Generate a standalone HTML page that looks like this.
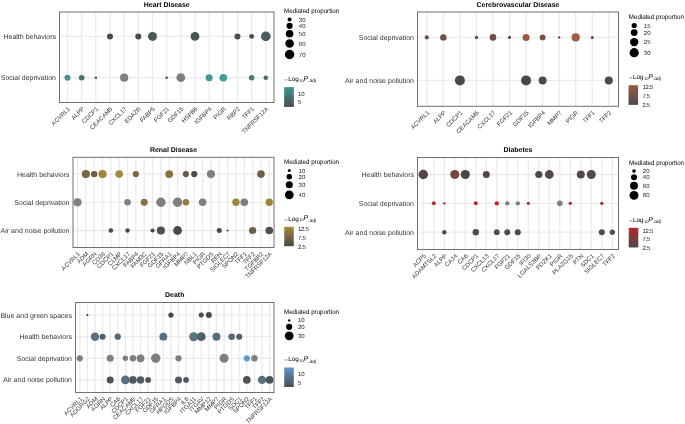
<!DOCTYPE html><html><head><meta charset="utf-8"><title>Mediation dot plots</title><style>html,body{margin:0;padding:0;background:#fff;width:685px;height:424px;overflow:hidden}svg{display:block;will-change:transform}text{font-family:"Liberation Sans",sans-serif;text-rendering:geometricPrecision}</style></head><body><svg width="685" height="424" viewBox="0 0 685 424" font-family='"Liberation Sans", sans-serif'><defs><linearGradient id="g0" x1="0" y1="0" x2="0" y2="1"><stop offset="0" stop-color="#3f9793"/><stop offset="1" stop-color="#4a4a4a"/></linearGradient><linearGradient id="g1" x1="0" y1="0" x2="0" y2="1"><stop offset="0" stop-color="#9a5a3e"/><stop offset="1" stop-color="#4a4a4a"/></linearGradient><linearGradient id="g2" x1="0" y1="0" x2="0" y2="1"><stop offset="0" stop-color="#a6873a"/><stop offset="1" stop-color="#4b4946"/></linearGradient><linearGradient id="g3" x1="0" y1="0" x2="0" y2="1"><stop offset="0" stop-color="#b02828"/><stop offset="1" stop-color="#4a4a4a"/></linearGradient><linearGradient id="g4" x1="0" y1="0" x2="0" y2="1"><stop offset="0" stop-color="#5a9ad0"/><stop offset="1" stop-color="#4a4a4a"/></linearGradient></defs><rect width="685" height="424" fill="#fff"/><g><line x1="67.5" y1="12" x2="67.5" y2="102.5" stroke="#ebebeb" stroke-width="1.3"/><line x1="81.66" y1="12" x2="81.66" y2="102.5" stroke="#ebebeb" stroke-width="1.3"/><line x1="95.83" y1="12" x2="95.83" y2="102.5" stroke="#ebebeb" stroke-width="1.3"/><line x1="109.99" y1="12" x2="109.99" y2="102.5" stroke="#ebebeb" stroke-width="1.3"/><line x1="124.16" y1="12" x2="124.16" y2="102.5" stroke="#ebebeb" stroke-width="1.3"/><line x1="138.32" y1="12" x2="138.32" y2="102.5" stroke="#ebebeb" stroke-width="1.3"/><line x1="152.49" y1="12" x2="152.49" y2="102.5" stroke="#ebebeb" stroke-width="1.3"/><line x1="166.65" y1="12" x2="166.65" y2="102.5" stroke="#ebebeb" stroke-width="1.3"/><line x1="180.81" y1="12" x2="180.81" y2="102.5" stroke="#ebebeb" stroke-width="1.3"/><line x1="194.98" y1="12" x2="194.98" y2="102.5" stroke="#ebebeb" stroke-width="1.3"/><line x1="209.14" y1="12" x2="209.14" y2="102.5" stroke="#ebebeb" stroke-width="1.3"/><line x1="223.31" y1="12" x2="223.31" y2="102.5" stroke="#ebebeb" stroke-width="1.3"/><line x1="237.47" y1="12" x2="237.47" y2="102.5" stroke="#ebebeb" stroke-width="1.3"/><line x1="251.64" y1="12" x2="251.64" y2="102.5" stroke="#ebebeb" stroke-width="1.3"/><line x1="265.8" y1="12" x2="265.8" y2="102.5" stroke="#ebebeb" stroke-width="1.3"/><line x1="59.5" y1="36.4" x2="274" y2="36.4" stroke="#ebebeb" stroke-width="1.3"/><line x1="59.5" y1="77.7" x2="274" y2="77.7" stroke="#ebebeb" stroke-width="1.3"/><circle cx="109.99" cy="36.4" r="3" fill="#4a4a4a"/><circle cx="138.32" cy="36.4" r="3" fill="#494949"/><circle cx="152.49" cy="36.4" r="4.5" fill="#4b5658"/><circle cx="194.98" cy="36.4" r="4.4" fill="#4a5254"/><circle cx="237.47" cy="36.4" r="3" fill="#4d4d4d"/><circle cx="251.64" cy="36.4" r="2.4" fill="#484848"/><circle cx="265.8" cy="36.4" r="4.8" fill="#4a5e60"/><circle cx="67.5" cy="77.7" r="3" fill="#468f8b"/><circle cx="81.66" cy="77.7" r="2.8" fill="#48706d"/><circle cx="95.83" cy="77.7" r="1.3" fill="#3f5c5c"/><circle cx="124.16" cy="77.7" r="4.1" fill="#7f7f7f"/><circle cx="166.65" cy="77.7" r="1.3" fill="#3f5c5c"/><circle cx="180.81" cy="77.7" r="4.4" fill="#7f7f7f"/><circle cx="209.14" cy="77.7" r="3.5" fill="#409895"/><circle cx="223.31" cy="77.7" r="3.8" fill="#419d99"/><circle cx="251.64" cy="77.7" r="2.7" fill="#467775"/><circle cx="265.8" cy="77.7" r="2.3" fill="#486d6c"/><rect x="59.5" y="12" width="214.5" height="90.5" fill="none" stroke="#707070" stroke-width="1.0"/><text x="166.75" y="6.6" text-anchor="middle" font-weight="bold" font-size="6.95" fill="#000">Heart Disease</text><text x="56" y="38.85" text-anchor="end" font-size="7.0" fill="#333333">Health behaviors</text><text x="56" y="80.15" text-anchor="end" font-size="7.0" fill="#333333">Social deprivation</text><text transform="translate(70.5,109.3) rotate(-45)" text-anchor="end" font-size="6.05" fill="#333333">ACVRL1</text><text transform="translate(84.66,109.3) rotate(-45)" text-anchor="end" font-size="6.05" fill="#333333">ALPP</text><text transform="translate(98.83,109.3) rotate(-45)" text-anchor="end" font-size="6.05" fill="#333333">CDCP1</text><text transform="translate(112.99,109.3) rotate(-45)" text-anchor="end" font-size="6.05" fill="#333333">CEACAM5</text><text transform="translate(127.16,109.3) rotate(-45)" text-anchor="end" font-size="6.05" fill="#333333">CXCL17</text><text transform="translate(141.32,109.3) rotate(-45)" text-anchor="end" font-size="6.05" fill="#333333">EDA2R</text><text transform="translate(155.49,109.3) rotate(-45)" text-anchor="end" font-size="6.05" fill="#333333">FABP5</text><text transform="translate(169.65,109.3) rotate(-45)" text-anchor="end" font-size="6.05" fill="#333333">FGF21</text><text transform="translate(183.81,109.3) rotate(-45)" text-anchor="end" font-size="6.05" fill="#333333">GDF15</text><text transform="translate(197.98,109.3) rotate(-45)" text-anchor="end" font-size="6.05" fill="#333333">HSPB6</text><text transform="translate(212.14,109.3) rotate(-45)" text-anchor="end" font-size="6.05" fill="#333333">IGFBP4</text><text transform="translate(226.31,109.3) rotate(-45)" text-anchor="end" font-size="6.05" fill="#333333">PIGR</text><text transform="translate(240.47,109.3) rotate(-45)" text-anchor="end" font-size="6.05" fill="#333333">RBP2</text><text transform="translate(254.64,109.3) rotate(-45)" text-anchor="end" font-size="6.05" fill="#333333">TFF1</text><text transform="translate(268.8,109.3) rotate(-45)" text-anchor="end" font-size="6.05" fill="#333333">TNFRSF12A</text><text transform="translate(284.1,12.6) scale(1,1.07)" font-size="6.2" fill="#000">Mediated proportion</text><circle cx="289.6" cy="19.5" r="2" fill="#000"/><text x="298.8" y="21.55" font-size="6.0" fill="#1a1a1a">30</text><circle cx="289.6" cy="25.8" r="3.1" fill="#000"/><text x="298.8" y="27.85" font-size="6.0" fill="#1a1a1a">40</text><circle cx="289.6" cy="33.7" r="3.8" fill="#000"/><text x="298.8" y="35.75" font-size="6.0" fill="#1a1a1a">50</text><circle cx="289.6" cy="43.5" r="4.3" fill="#000"/><text x="298.8" y="45.55" font-size="6.0" fill="#1a1a1a">60</text><circle cx="289.6" cy="54.5" r="4.7" fill="#000"/><text x="298.8" y="56.55" font-size="6.0" fill="#1a1a1a">70</text><text x="284.2" y="81.7" font-size="6.1" fill="#000">&#8722;</text><text x="288.2" y="80.9" font-size="6.3" fill="#000">Log</text><text x="299.4" y="81.5" font-size="3.9" fill="#000">10</text><text x="303.4" y="80.6" font-size="6.9" font-style="italic" fill="#000">P</text><text x="308.2" y="82.2" font-size="4.9" font-style="italic" fill="#000">.adj</text><rect x="284.1" y="87.1" width="9.8" height="19.8" fill="url(#g0)"/><line x1="284.1" y1="93.6" x2="285.7" y2="93.6" stroke="#fff" stroke-opacity="0.5" stroke-width="0.45"/><line x1="292.3" y1="93.6" x2="293.9" y2="93.6" stroke="#fff" stroke-opacity="0.5" stroke-width="0.45"/><text x="298" y="95.65" font-size="6.0" fill="#1a1a1a">10</text><line x1="284.1" y1="102.4" x2="285.7" y2="102.4" stroke="#fff" stroke-opacity="0.5" stroke-width="0.45"/><line x1="292.3" y1="102.4" x2="293.9" y2="102.4" stroke="#fff" stroke-opacity="0.5" stroke-width="0.45"/><text x="298" y="104.45" font-size="6.0" fill="#1a1a1a">5</text></g>
<g><line x1="426.8" y1="12" x2="426.8" y2="106.3" stroke="#ebebeb" stroke-width="1.3"/><line x1="443.35" y1="12" x2="443.35" y2="106.3" stroke="#ebebeb" stroke-width="1.3"/><line x1="459.89" y1="12" x2="459.89" y2="106.3" stroke="#ebebeb" stroke-width="1.3"/><line x1="476.44" y1="12" x2="476.44" y2="106.3" stroke="#ebebeb" stroke-width="1.3"/><line x1="492.98" y1="12" x2="492.98" y2="106.3" stroke="#ebebeb" stroke-width="1.3"/><line x1="509.53" y1="12" x2="509.53" y2="106.3" stroke="#ebebeb" stroke-width="1.3"/><line x1="526.07" y1="12" x2="526.07" y2="106.3" stroke="#ebebeb" stroke-width="1.3"/><line x1="542.62" y1="12" x2="542.62" y2="106.3" stroke="#ebebeb" stroke-width="1.3"/><line x1="559.16" y1="12" x2="559.16" y2="106.3" stroke="#ebebeb" stroke-width="1.3"/><line x1="575.71" y1="12" x2="575.71" y2="106.3" stroke="#ebebeb" stroke-width="1.3"/><line x1="592.25" y1="12" x2="592.25" y2="106.3" stroke="#ebebeb" stroke-width="1.3"/><line x1="608.8" y1="12" x2="608.8" y2="106.3" stroke="#ebebeb" stroke-width="1.3"/><line x1="417.5" y1="37.4" x2="618.5" y2="37.4" stroke="#ebebeb" stroke-width="1.3"/><line x1="417.5" y1="80.4" x2="618.5" y2="80.4" stroke="#ebebeb" stroke-width="1.3"/><circle cx="426.8" cy="37.4" r="2.05" fill="#6e4e44"/><circle cx="443.35" cy="37.4" r="3.2" fill="#6e4e44"/><circle cx="476.44" cy="37.4" r="1.65" fill="#634840"/><circle cx="492.98" cy="37.4" r="3.3" fill="#6e4e44"/><circle cx="509.53" cy="37.4" r="1.6" fill="#604640"/><circle cx="526.07" cy="37.4" r="3.5" fill="#9c5940"/><circle cx="542.62" cy="37.4" r="2.9" fill="#7a4e40"/><circle cx="559.16" cy="37.4" r="1.2" fill="#604640"/><circle cx="575.71" cy="37.4" r="4.1" fill="#a05b40"/><circle cx="592.25" cy="37.4" r="1.5" fill="#604640"/><circle cx="459.89" cy="80.4" r="5" fill="#4a4a4a"/><circle cx="526.07" cy="80.4" r="5" fill="#474747"/><circle cx="542.62" cy="80.4" r="4" fill="#4a4a4a"/><circle cx="608.8" cy="80.4" r="4" fill="#4a4a4a"/><rect x="417.5" y="12" width="201" height="94.3" fill="none" stroke="#707070" stroke-width="1.0"/><text x="518" y="6.6" text-anchor="middle" font-weight="bold" font-size="6.95" fill="#000">Cerebrovascular Disease</text><text x="414" y="39.85" text-anchor="end" font-size="7.0" fill="#333333">Social deprivation</text><text x="414" y="82.85" text-anchor="end" font-size="7.0" fill="#333333">Air and noise pollution</text><text transform="translate(429.8,113.1) rotate(-45)" text-anchor="end" font-size="6.05" fill="#333333">ACVRL1</text><text transform="translate(446.35,113.1) rotate(-45)" text-anchor="end" font-size="6.05" fill="#333333">ALPP</text><text transform="translate(462.89,113.1) rotate(-45)" text-anchor="end" font-size="6.05" fill="#333333">CDCP1</text><text transform="translate(479.44,113.1) rotate(-45)" text-anchor="end" font-size="6.05" fill="#333333">CEACAM5</text><text transform="translate(495.98,113.1) rotate(-45)" text-anchor="end" font-size="6.05" fill="#333333">CXCL17</text><text transform="translate(512.53,113.1) rotate(-45)" text-anchor="end" font-size="6.05" fill="#333333">FGF21</text><text transform="translate(529.07,113.1) rotate(-45)" text-anchor="end" font-size="6.05" fill="#333333">GDF15</text><text transform="translate(545.62,113.1) rotate(-45)" text-anchor="end" font-size="6.05" fill="#333333">IGFBP4</text><text transform="translate(562.16,113.1) rotate(-45)" text-anchor="end" font-size="6.05" fill="#333333">MMP7</text><text transform="translate(578.71,113.1) rotate(-45)" text-anchor="end" font-size="6.05" fill="#333333">PIGR</text><text transform="translate(595.25,113.1) rotate(-45)" text-anchor="end" font-size="6.05" fill="#333333">TFF1</text><text transform="translate(611.8,113.1) rotate(-45)" text-anchor="end" font-size="6.05" fill="#333333">TFF2</text><text transform="translate(628.8,18.7) scale(1,1.07)" font-size="6.2" fill="#000">Mediated proportion</text><circle cx="634.2" cy="25.5" r="2.6" fill="#000"/><text x="643.8" y="27.55" font-size="6.0" fill="#1a1a1a">15</text><circle cx="634.2" cy="32.6" r="3.4" fill="#000"/><text x="643.8" y="34.65" font-size="6.0" fill="#1a1a1a">20</text><circle cx="634.2" cy="42.1" r="4.2" fill="#000"/><text x="643.8" y="44.15" font-size="6.0" fill="#1a1a1a">25</text><circle cx="634.2" cy="52.7" r="4.6" fill="#000"/><text x="643.8" y="54.75" font-size="6.0" fill="#1a1a1a">30</text><text x="629" y="79.9" font-size="6.1" fill="#000">&#8722;</text><text x="633" y="79.1" font-size="6.3" fill="#000">Log</text><text x="644.2" y="79.7" font-size="3.9" fill="#000">10</text><text x="648.2" y="78.8" font-size="6.9" font-style="italic" fill="#000">P</text><text x="653" y="80.4" font-size="4.9" font-style="italic" fill="#000">.adj</text><rect x="628.5" y="85.2" width="9.6" height="19.7" fill="url(#g1)"/><line x1="628.5" y1="86.9" x2="630.1" y2="86.9" stroke="#fff" stroke-opacity="0.5" stroke-width="0.45"/><line x1="636.5" y1="86.9" x2="638.1" y2="86.9" stroke="#fff" stroke-opacity="0.5" stroke-width="0.45"/><text x="642.4" y="88.95" font-size="6.0" fill="#1a1a1a" letter-spacing="-0.3">12.5</text><line x1="628.5" y1="96.1" x2="630.1" y2="96.1" stroke="#fff" stroke-opacity="0.5" stroke-width="0.45"/><line x1="636.5" y1="96.1" x2="638.1" y2="96.1" stroke="#fff" stroke-opacity="0.5" stroke-width="0.45"/><text x="642.4" y="98.15" font-size="6.0" fill="#1a1a1a" letter-spacing="-0.3">7.5</text><line x1="628.5" y1="104.9" x2="630.1" y2="104.9" stroke="#fff" stroke-opacity="0.5" stroke-width="0.45"/><line x1="636.5" y1="104.9" x2="638.1" y2="104.9" stroke="#fff" stroke-opacity="0.5" stroke-width="0.45"/><text x="642.4" y="106.95" font-size="6.0" fill="#1a1a1a" letter-spacing="-0.3">2.5</text></g>
<g><line x1="77.5" y1="157.3" x2="77.5" y2="247.5" stroke="#ebebeb" stroke-width="1.3"/><line x1="85.84" y1="157.3" x2="85.84" y2="247.5" stroke="#ebebeb" stroke-width="1.3"/><line x1="94.18" y1="157.3" x2="94.18" y2="247.5" stroke="#ebebeb" stroke-width="1.3"/><line x1="102.52" y1="157.3" x2="102.52" y2="247.5" stroke="#ebebeb" stroke-width="1.3"/><line x1="110.86" y1="157.3" x2="110.86" y2="247.5" stroke="#ebebeb" stroke-width="1.3"/><line x1="119.2" y1="157.3" x2="119.2" y2="247.5" stroke="#ebebeb" stroke-width="1.3"/><line x1="127.53" y1="157.3" x2="127.53" y2="247.5" stroke="#ebebeb" stroke-width="1.3"/><line x1="135.87" y1="157.3" x2="135.87" y2="247.5" stroke="#ebebeb" stroke-width="1.3"/><line x1="144.21" y1="157.3" x2="144.21" y2="247.5" stroke="#ebebeb" stroke-width="1.3"/><line x1="152.55" y1="157.3" x2="152.55" y2="247.5" stroke="#ebebeb" stroke-width="1.3"/><line x1="160.89" y1="157.3" x2="160.89" y2="247.5" stroke="#ebebeb" stroke-width="1.3"/><line x1="169.23" y1="157.3" x2="169.23" y2="247.5" stroke="#ebebeb" stroke-width="1.3"/><line x1="177.57" y1="157.3" x2="177.57" y2="247.5" stroke="#ebebeb" stroke-width="1.3"/><line x1="185.91" y1="157.3" x2="185.91" y2="247.5" stroke="#ebebeb" stroke-width="1.3"/><line x1="194.25" y1="157.3" x2="194.25" y2="247.5" stroke="#ebebeb" stroke-width="1.3"/><line x1="202.59" y1="157.3" x2="202.59" y2="247.5" stroke="#ebebeb" stroke-width="1.3"/><line x1="210.93" y1="157.3" x2="210.93" y2="247.5" stroke="#ebebeb" stroke-width="1.3"/><line x1="219.27" y1="157.3" x2="219.27" y2="247.5" stroke="#ebebeb" stroke-width="1.3"/><line x1="227.6" y1="157.3" x2="227.6" y2="247.5" stroke="#ebebeb" stroke-width="1.3"/><line x1="235.94" y1="157.3" x2="235.94" y2="247.5" stroke="#ebebeb" stroke-width="1.3"/><line x1="244.28" y1="157.3" x2="244.28" y2="247.5" stroke="#ebebeb" stroke-width="1.3"/><line x1="252.62" y1="157.3" x2="252.62" y2="247.5" stroke="#ebebeb" stroke-width="1.3"/><line x1="260.96" y1="157.3" x2="260.96" y2="247.5" stroke="#ebebeb" stroke-width="1.3"/><line x1="269.3" y1="157.3" x2="269.3" y2="247.5" stroke="#ebebeb" stroke-width="1.3"/><line x1="73" y1="174.1" x2="274" y2="174.1" stroke="#ebebeb" stroke-width="1.3"/><line x1="73" y1="202.3" x2="274" y2="202.3" stroke="#ebebeb" stroke-width="1.3"/><line x1="73" y1="230.5" x2="274" y2="230.5" stroke="#ebebeb" stroke-width="1.3"/><circle cx="85.84" cy="174.1" r="4.1" fill="#7a6642"/><circle cx="94.18" cy="174.1" r="3.2" fill="#6a5e48"/><circle cx="102.52" cy="174.1" r="4.1" fill="#a08438"/><circle cx="119.2" cy="174.1" r="3.8" fill="#a08838"/><circle cx="135.87" cy="174.1" r="3.1" fill="#7a6640"/><circle cx="169.23" cy="174.1" r="3.9" fill="#8a7040"/><circle cx="185.91" cy="174.1" r="3.1" fill="#6a5a40"/><circle cx="194.25" cy="174.1" r="3.1" fill="#4d4a44"/><circle cx="210.93" cy="174.1" r="4.1" fill="#7f7f7f"/><circle cx="260.96" cy="174.1" r="3.8" fill="#6e5e40"/><circle cx="77.5" cy="202.3" r="4.1" fill="#7f7f7f"/><circle cx="127.53" cy="202.3" r="3.3" fill="#7f7f7f"/><circle cx="144.21" cy="202.3" r="3.5" fill="#8a7038"/><circle cx="160.89" cy="202.3" r="4.7" fill="#7f7f7f"/><circle cx="177.57" cy="202.3" r="4.7" fill="#7f7f7f"/><circle cx="185.91" cy="202.3" r="3.2" fill="#957a38"/><circle cx="202.59" cy="202.3" r="3.8" fill="#7f7f7f"/><circle cx="235.94" cy="202.3" r="3.7" fill="#a08438"/><circle cx="244.28" cy="202.3" r="3.8" fill="#7f7f7f"/><circle cx="269.3" cy="202.3" r="3.7" fill="#a08438"/><circle cx="110.86" cy="230.5" r="2.3" fill="#4d4a40"/><circle cx="127.53" cy="230.5" r="2.2" fill="#4d4a40"/><circle cx="152.55" cy="230.5" r="2.1" fill="#4d4a44"/><circle cx="160.89" cy="230.5" r="4.1" fill="#525048"/><circle cx="177.57" cy="230.5" r="4.4" fill="#4d4a44"/><circle cx="219.27" cy="230.5" r="2.5" fill="#484848"/><circle cx="227.6" cy="230.5" r="1.1" fill="#484848"/><circle cx="252.62" cy="230.5" r="3.6" fill="#6a5e48"/><circle cx="269.3" cy="230.5" r="3.8" fill="#504f4c"/><rect x="73" y="157.3" width="201" height="90.2" fill="none" stroke="#707070" stroke-width="1.0"/><text x="173.5" y="151.9" text-anchor="middle" font-weight="bold" font-size="6.95" fill="#000">Renal Disease</text><text x="69.5" y="176.55" text-anchor="end" font-size="7.0" fill="#333333">Health behaviors</text><text x="69.5" y="204.75" text-anchor="end" font-size="7.0" fill="#333333">Social deprivation</text><text x="69.5" y="232.95" text-anchor="end" font-size="7.0" fill="#333333">Air and noise pollution</text><text transform="translate(80.5,254.3) rotate(-45)" text-anchor="end" font-size="6.05" fill="#333333">ACVRL1</text><text transform="translate(88.84,254.3) rotate(-45)" text-anchor="end" font-size="6.05" fill="#333333">ADM</text><text transform="translate(97.18,254.3) rotate(-45)" text-anchor="end" font-size="6.05" fill="#333333">AGRN</text><text transform="translate(105.52,254.3) rotate(-45)" text-anchor="end" font-size="6.05" fill="#333333">CD38</text><text transform="translate(113.86,254.3) rotate(-45)" text-anchor="end" font-size="6.05" fill="#333333">CDCP1</text><text transform="translate(122.2,254.3) rotate(-45)" text-anchor="end" font-size="6.05" fill="#333333">CLMP</text><text transform="translate(130.53,254.3) rotate(-45)" text-anchor="end" font-size="6.05" fill="#333333">CXCL17</text><text transform="translate(138.87,254.3) rotate(-45)" text-anchor="end" font-size="6.05" fill="#333333">FABP4</text><text transform="translate(147.21,254.3) rotate(-45)" text-anchor="end" font-size="6.05" fill="#333333">FAM3C</text><text transform="translate(155.55,254.3) rotate(-45)" text-anchor="end" font-size="6.05" fill="#333333">FGF21</text><text transform="translate(163.89,254.3) rotate(-45)" text-anchor="end" font-size="6.05" fill="#333333">GDF15</text><text transform="translate(172.23,254.3) rotate(-45)" text-anchor="end" font-size="6.05" fill="#333333">GFRA1</text><text transform="translate(180.57,254.3) rotate(-45)" text-anchor="end" font-size="6.05" fill="#333333">IGFBP4</text><text transform="translate(188.91,254.3) rotate(-45)" text-anchor="end" font-size="6.05" fill="#333333">MMP7</text><text transform="translate(197.25,254.3) rotate(-45)" text-anchor="end" font-size="6.05" fill="#333333">NBL1</text><text transform="translate(205.59,254.3) rotate(-45)" text-anchor="end" font-size="6.05" fill="#333333">PIGR</text><text transform="translate(213.93,254.3) rotate(-45)" text-anchor="end" font-size="6.05" fill="#333333">PTGDS</text><text transform="translate(222.27,254.3) rotate(-45)" text-anchor="end" font-size="6.05" fill="#333333">REN</text><text transform="translate(230.6,254.3) rotate(-45)" text-anchor="end" font-size="6.05" fill="#333333">SIGLEC7</text><text transform="translate(238.94,254.3) rotate(-45)" text-anchor="end" font-size="6.05" fill="#333333">SPON2</text><text transform="translate(247.28,254.3) rotate(-45)" text-anchor="end" font-size="6.05" fill="#333333">TFF1</text><text transform="translate(255.62,254.3) rotate(-45)" text-anchor="end" font-size="6.05" fill="#333333">TFF2</text><text transform="translate(263.96,254.3) rotate(-45)" text-anchor="end" font-size="6.05" fill="#333333">TGFBR2</text><text transform="translate(272.3,254.3) rotate(-45)" text-anchor="end" font-size="6.05" fill="#333333">TNFRSF12A</text><text transform="translate(284,163.5) scale(1,1.07)" font-size="6.2" fill="#000">Mediated proportion</text><circle cx="289.3" cy="170.6" r="1.5" fill="#000"/><text x="298.6" y="172.65" font-size="6.0" fill="#1a1a1a">10</text><circle cx="289.3" cy="176.8" r="2.75" fill="#000"/><text x="298.6" y="178.85" font-size="6.0" fill="#1a1a1a">20</text><circle cx="289.3" cy="184.7" r="3.55" fill="#000"/><text x="298.6" y="186.75" font-size="6.0" fill="#1a1a1a">30</text><circle cx="289.3" cy="194.8" r="4.4" fill="#000"/><text x="298.6" y="196.85" font-size="6.0" fill="#1a1a1a">40</text><text x="284.2" y="221.5" font-size="6.1" fill="#000">&#8722;</text><text x="288.2" y="220.7" font-size="6.3" fill="#000">Log</text><text x="299.4" y="221.3" font-size="3.9" fill="#000">10</text><text x="303.4" y="220.4" font-size="6.9" font-style="italic" fill="#000">P</text><text x="308.2" y="222" font-size="4.9" font-style="italic" fill="#000">.adj</text><rect x="284.2" y="226.8" width="9.6" height="19.4" fill="url(#g2)"/><line x1="284.2" y1="229.4" x2="285.8" y2="229.4" stroke="#fff" stroke-opacity="0.5" stroke-width="0.45"/><line x1="292.2" y1="229.4" x2="293.8" y2="229.4" stroke="#fff" stroke-opacity="0.5" stroke-width="0.45"/><text x="298" y="231.45" font-size="6.0" fill="#1a1a1a" letter-spacing="-0.3">12.5</text><line x1="284.2" y1="238.1" x2="285.8" y2="238.1" stroke="#fff" stroke-opacity="0.5" stroke-width="0.45"/><line x1="292.2" y1="238.1" x2="293.8" y2="238.1" stroke="#fff" stroke-opacity="0.5" stroke-width="0.45"/><text x="298" y="240.15" font-size="6.0" fill="#1a1a1a" letter-spacing="-0.3">7.5</text><line x1="284.2" y1="246.6" x2="285.8" y2="246.6" stroke="#fff" stroke-opacity="0.5" stroke-width="0.45"/><line x1="292.2" y1="246.6" x2="293.8" y2="246.6" stroke="#fff" stroke-opacity="0.5" stroke-width="0.45"/><text x="298" y="248.65" font-size="6.0" fill="#1a1a1a" letter-spacing="-0.3">2.5</text></g>
<g><line x1="423.3" y1="157.5" x2="423.3" y2="249.5" stroke="#ebebeb" stroke-width="1.3"/><line x1="433.8" y1="157.5" x2="433.8" y2="249.5" stroke="#ebebeb" stroke-width="1.3"/><line x1="444.3" y1="157.5" x2="444.3" y2="249.5" stroke="#ebebeb" stroke-width="1.3"/><line x1="454.8" y1="157.5" x2="454.8" y2="249.5" stroke="#ebebeb" stroke-width="1.3"/><line x1="465.3" y1="157.5" x2="465.3" y2="249.5" stroke="#ebebeb" stroke-width="1.3"/><line x1="475.8" y1="157.5" x2="475.8" y2="249.5" stroke="#ebebeb" stroke-width="1.3"/><line x1="486.3" y1="157.5" x2="486.3" y2="249.5" stroke="#ebebeb" stroke-width="1.3"/><line x1="496.8" y1="157.5" x2="496.8" y2="249.5" stroke="#ebebeb" stroke-width="1.3"/><line x1="507.3" y1="157.5" x2="507.3" y2="249.5" stroke="#ebebeb" stroke-width="1.3"/><line x1="517.8" y1="157.5" x2="517.8" y2="249.5" stroke="#ebebeb" stroke-width="1.3"/><line x1="528.3" y1="157.5" x2="528.3" y2="249.5" stroke="#ebebeb" stroke-width="1.3"/><line x1="538.8" y1="157.5" x2="538.8" y2="249.5" stroke="#ebebeb" stroke-width="1.3"/><line x1="549.3" y1="157.5" x2="549.3" y2="249.5" stroke="#ebebeb" stroke-width="1.3"/><line x1="559.8" y1="157.5" x2="559.8" y2="249.5" stroke="#ebebeb" stroke-width="1.3"/><line x1="570.3" y1="157.5" x2="570.3" y2="249.5" stroke="#ebebeb" stroke-width="1.3"/><line x1="580.8" y1="157.5" x2="580.8" y2="249.5" stroke="#ebebeb" stroke-width="1.3"/><line x1="591.3" y1="157.5" x2="591.3" y2="249.5" stroke="#ebebeb" stroke-width="1.3"/><line x1="601.8" y1="157.5" x2="601.8" y2="249.5" stroke="#ebebeb" stroke-width="1.3"/><line x1="612.3" y1="157.5" x2="612.3" y2="249.5" stroke="#ebebeb" stroke-width="1.3"/><line x1="417.5" y1="174.5" x2="618.5" y2="174.5" stroke="#ebebeb" stroke-width="1.3"/><line x1="417.5" y1="203.35" x2="618.5" y2="203.35" stroke="#ebebeb" stroke-width="1.3"/><line x1="417.5" y1="232.2" x2="618.5" y2="232.2" stroke="#ebebeb" stroke-width="1.3"/><circle cx="423.3" cy="174.5" r="4.7" fill="#554646"/><circle cx="454.8" cy="174.5" r="4.6" fill="#784840"/><circle cx="465.3" cy="174.5" r="4.6" fill="#4b4646"/><circle cx="486.3" cy="174.5" r="3.5" fill="#564848"/><circle cx="538.8" cy="174.5" r="3.6" fill="#4e4a4a"/><circle cx="549.3" cy="174.5" r="4.4" fill="#564848"/><circle cx="580.8" cy="174.5" r="4" fill="#514c4c"/><circle cx="591.3" cy="174.5" r="4.5" fill="#564848"/><circle cx="433.8" cy="203.35" r="2" fill="#b03028"/><circle cx="444.3" cy="203.35" r="1.2" fill="#8a3a30"/><circle cx="475.8" cy="203.35" r="2" fill="#b03028"/><circle cx="496.8" cy="203.35" r="2.2" fill="#c02828"/><circle cx="507.3" cy="203.35" r="2.2" fill="#7f7f7f"/><circle cx="517.8" cy="203.35" r="2.2" fill="#7f7f7f"/><circle cx="528.3" cy="203.35" r="1.6" fill="#a83028"/><circle cx="559.8" cy="203.35" r="2.8" fill="#7f7f7f"/><circle cx="570.3" cy="203.35" r="1.7" fill="#a83028"/><circle cx="601.8" cy="203.35" r="1.7" fill="#a83028"/><circle cx="444.3" cy="232.2" r="2.2" fill="#4b4949"/><circle cx="475.8" cy="232.2" r="3.2" fill="#574646"/><circle cx="496.8" cy="232.2" r="2.9" fill="#564848"/><circle cx="507.3" cy="232.2" r="3" fill="#564848"/><circle cx="517.8" cy="232.2" r="3" fill="#564848"/><circle cx="601.8" cy="232.2" r="3" fill="#564848"/><circle cx="612.3" cy="232.2" r="2.6" fill="#564848"/><rect x="417.5" y="157.5" width="201" height="92" fill="none" stroke="#707070" stroke-width="1.0"/><text x="518" y="152.1" text-anchor="middle" font-weight="bold" font-size="6.95" fill="#000">Diabetes</text><text x="414" y="176.95" text-anchor="end" font-size="7.0" fill="#333333">Health behaviors</text><text x="414" y="205.8" text-anchor="end" font-size="7.0" fill="#333333">Social deprivation</text><text x="414" y="234.65" text-anchor="end" font-size="7.0" fill="#333333">Air and noise pollution</text><text transform="translate(426.3,256.3) rotate(-45)" text-anchor="end" font-size="6.05" fill="#333333">ACP5</text><text transform="translate(436.8,256.3) rotate(-45)" text-anchor="end" font-size="6.05" fill="#333333">ADAMTSL2</text><text transform="translate(447.3,256.3) rotate(-45)" text-anchor="end" font-size="6.05" fill="#333333">ALPP</text><text transform="translate(457.8,256.3) rotate(-45)" text-anchor="end" font-size="6.05" fill="#333333">CA14</text><text transform="translate(468.3,256.3) rotate(-45)" text-anchor="end" font-size="6.05" fill="#333333">CA6</text><text transform="translate(478.8,256.3) rotate(-45)" text-anchor="end" font-size="6.05" fill="#333333">CDCP1</text><text transform="translate(489.3,256.3) rotate(-45)" text-anchor="end" font-size="6.05" fill="#333333">CXCL13</text><text transform="translate(499.8,256.3) rotate(-45)" text-anchor="end" font-size="6.05" fill="#333333">CXCL17</text><text transform="translate(510.3,256.3) rotate(-45)" text-anchor="end" font-size="6.05" fill="#333333">FGF21</text><text transform="translate(520.8,256.3) rotate(-45)" text-anchor="end" font-size="6.05" fill="#333333">GDF15</text><text transform="translate(531.3,256.3) rotate(-45)" text-anchor="end" font-size="6.05" fill="#333333">IFI30</text><text transform="translate(541.8,256.3) rotate(-45)" text-anchor="end" font-size="6.05" fill="#333333">LGALS3BP</text><text transform="translate(552.3,256.3) rotate(-45)" text-anchor="end" font-size="6.05" fill="#333333">PDZK1</text><text transform="translate(562.8,256.3) rotate(-45)" text-anchor="end" font-size="6.05" fill="#333333">PIGR</text><text transform="translate(573.3,256.3) rotate(-45)" text-anchor="end" font-size="6.05" fill="#333333">PLA2G15</text><text transform="translate(583.8,256.3) rotate(-45)" text-anchor="end" font-size="6.05" fill="#333333">PTN</text><text transform="translate(594.3,256.3) rotate(-45)" text-anchor="end" font-size="6.05" fill="#333333">SDC1</text><text transform="translate(604.8,256.3) rotate(-45)" text-anchor="end" font-size="6.05" fill="#333333">SIGLEC7</text><text transform="translate(615.3,256.3) rotate(-45)" text-anchor="end" font-size="6.05" fill="#333333">TFF2</text><text transform="translate(629,164.9) scale(1,1.07)" font-size="6.2" fill="#000">Mediated proportion</text><circle cx="634" cy="171.1" r="1.8" fill="#000"/><text x="642.8" y="173.15" font-size="6.0" fill="#1a1a1a">20</text><circle cx="634" cy="177.3" r="3" fill="#000"/><text x="642.8" y="179.35" font-size="6.0" fill="#1a1a1a">40</text><circle cx="634" cy="185.8" r="3.95" fill="#000"/><text x="642.8" y="187.85" font-size="6.0" fill="#1a1a1a">60</text><circle cx="634" cy="195.4" r="4.45" fill="#000"/><text x="642.8" y="197.45" font-size="6.0" fill="#1a1a1a">80</text><text x="629" y="222.8" font-size="6.1" fill="#000">&#8722;</text><text x="633" y="222" font-size="6.3" fill="#000">Log</text><text x="644.2" y="222.6" font-size="3.9" fill="#000">10</text><text x="648.2" y="221.7" font-size="6.9" font-style="italic" fill="#000">P</text><text x="653" y="223.3" font-size="4.9" font-style="italic" fill="#000">.adj</text><rect x="628.7" y="227.8" width="9.6" height="19.7" fill="url(#g3)"/><line x1="628.7" y1="230.5" x2="630.3" y2="230.5" stroke="#fff" stroke-opacity="0.5" stroke-width="0.45"/><line x1="636.7" y1="230.5" x2="638.3" y2="230.5" stroke="#fff" stroke-opacity="0.5" stroke-width="0.45"/><text x="642.5" y="232.55" font-size="6.0" fill="#1a1a1a" letter-spacing="-0.3">12.5</text><line x1="628.7" y1="239.2" x2="630.3" y2="239.2" stroke="#fff" stroke-opacity="0.5" stroke-width="0.45"/><line x1="636.7" y1="239.2" x2="638.3" y2="239.2" stroke="#fff" stroke-opacity="0.5" stroke-width="0.45"/><text x="642.5" y="241.25" font-size="6.0" fill="#1a1a1a" letter-spacing="-0.3">7.5</text><line x1="628.7" y1="247.5" x2="630.3" y2="247.5" stroke="#fff" stroke-opacity="0.5" stroke-width="0.45"/><line x1="636.7" y1="247.5" x2="638.3" y2="247.5" stroke="#fff" stroke-opacity="0.5" stroke-width="0.45"/><text x="642.5" y="249.55" font-size="6.0" fill="#1a1a1a" letter-spacing="-0.3">2.5</text></g>
<g><line x1="79.8" y1="302.5" x2="79.8" y2="392.5" stroke="#ebebeb" stroke-width="1.3"/><line x1="87.39" y1="302.5" x2="87.39" y2="392.5" stroke="#ebebeb" stroke-width="1.3"/><line x1="94.98" y1="302.5" x2="94.98" y2="392.5" stroke="#ebebeb" stroke-width="1.3"/><line x1="102.58" y1="302.5" x2="102.58" y2="392.5" stroke="#ebebeb" stroke-width="1.3"/><line x1="110.17" y1="302.5" x2="110.17" y2="392.5" stroke="#ebebeb" stroke-width="1.3"/><line x1="117.76" y1="302.5" x2="117.76" y2="392.5" stroke="#ebebeb" stroke-width="1.3"/><line x1="125.35" y1="302.5" x2="125.35" y2="392.5" stroke="#ebebeb" stroke-width="1.3"/><line x1="132.94" y1="302.5" x2="132.94" y2="392.5" stroke="#ebebeb" stroke-width="1.3"/><line x1="140.54" y1="302.5" x2="140.54" y2="392.5" stroke="#ebebeb" stroke-width="1.3"/><line x1="148.13" y1="302.5" x2="148.13" y2="392.5" stroke="#ebebeb" stroke-width="1.3"/><line x1="155.72" y1="302.5" x2="155.72" y2="392.5" stroke="#ebebeb" stroke-width="1.3"/><line x1="163.31" y1="302.5" x2="163.31" y2="392.5" stroke="#ebebeb" stroke-width="1.3"/><line x1="170.9" y1="302.5" x2="170.9" y2="392.5" stroke="#ebebeb" stroke-width="1.3"/><line x1="178.5" y1="302.5" x2="178.5" y2="392.5" stroke="#ebebeb" stroke-width="1.3"/><line x1="186.09" y1="302.5" x2="186.09" y2="392.5" stroke="#ebebeb" stroke-width="1.3"/><line x1="193.68" y1="302.5" x2="193.68" y2="392.5" stroke="#ebebeb" stroke-width="1.3"/><line x1="201.27" y1="302.5" x2="201.27" y2="392.5" stroke="#ebebeb" stroke-width="1.3"/><line x1="208.86" y1="302.5" x2="208.86" y2="392.5" stroke="#ebebeb" stroke-width="1.3"/><line x1="216.46" y1="302.5" x2="216.46" y2="392.5" stroke="#ebebeb" stroke-width="1.3"/><line x1="224.05" y1="302.5" x2="224.05" y2="392.5" stroke="#ebebeb" stroke-width="1.3"/><line x1="231.64" y1="302.5" x2="231.64" y2="392.5" stroke="#ebebeb" stroke-width="1.3"/><line x1="239.23" y1="302.5" x2="239.23" y2="392.5" stroke="#ebebeb" stroke-width="1.3"/><line x1="246.82" y1="302.5" x2="246.82" y2="392.5" stroke="#ebebeb" stroke-width="1.3"/><line x1="254.42" y1="302.5" x2="254.42" y2="392.5" stroke="#ebebeb" stroke-width="1.3"/><line x1="262.01" y1="302.5" x2="262.01" y2="392.5" stroke="#ebebeb" stroke-width="1.3"/><line x1="269.6" y1="302.5" x2="269.6" y2="392.5" stroke="#ebebeb" stroke-width="1.3"/><line x1="75.5" y1="315.1" x2="274" y2="315.1" stroke="#ebebeb" stroke-width="1.3"/><line x1="75.5" y1="336.7" x2="274" y2="336.7" stroke="#ebebeb" stroke-width="1.3"/><line x1="75.5" y1="358.3" x2="274" y2="358.3" stroke="#ebebeb" stroke-width="1.3"/><line x1="75.5" y1="379.9" x2="274" y2="379.9" stroke="#ebebeb" stroke-width="1.3"/><circle cx="87.39" cy="315.1" r="1.1" fill="#3a4048"/><circle cx="170.9" cy="315.1" r="2.6" fill="#484c50"/><circle cx="201.27" cy="315.1" r="2.5" fill="#484c50"/><circle cx="208.86" cy="315.1" r="3" fill="#484c50"/><circle cx="94.98" cy="336.7" r="4.2" fill="#587080"/><circle cx="102.58" cy="336.7" r="3" fill="#515e68"/><circle cx="117.76" cy="336.7" r="3.1" fill="#546878"/><circle cx="163.31" cy="336.7" r="3.9" fill="#56707f"/><circle cx="193.68" cy="336.7" r="4.5" fill="#587585"/><circle cx="201.27" cy="336.7" r="4.4" fill="#50606a"/><circle cx="216.46" cy="336.7" r="4" fill="#566e7e"/><circle cx="231.64" cy="336.7" r="3.3" fill="#56687a"/><circle cx="239.23" cy="336.7" r="3" fill="#505c66"/><circle cx="79.8" cy="358.3" r="3.1" fill="#7f7f7f"/><circle cx="110.17" cy="358.3" r="3.5" fill="#7f7f7f"/><circle cx="125.35" cy="358.3" r="2.7" fill="#7f7f7f"/><circle cx="132.94" cy="358.3" r="3.2" fill="#7f7f7f"/><circle cx="140.54" cy="358.3" r="3.9" fill="#7f7f7f"/><circle cx="155.72" cy="358.3" r="4.7" fill="#7f7f7f"/><circle cx="178.5" cy="358.3" r="3.1" fill="#7f7f7f"/><circle cx="224.05" cy="358.3" r="4.5" fill="#7f7f7f"/><circle cx="246.82" cy="358.3" r="3.1" fill="#5b9bd0"/><circle cx="254.42" cy="358.3" r="3.2" fill="#7f7f7f"/><circle cx="110.17" cy="379.9" r="3.5" fill="#4e5458"/><circle cx="125.35" cy="379.9" r="4.3" fill="#56707e"/><circle cx="132.94" cy="379.9" r="3.8" fill="#4f5a62"/><circle cx="140.54" cy="379.9" r="3.7" fill="#4f5a62"/><circle cx="148.13" cy="379.9" r="2.9" fill="#4e5458"/><circle cx="178.5" cy="379.9" r="3.5" fill="#52595f"/><circle cx="186.09" cy="379.9" r="2.8" fill="#4e5458"/><circle cx="246.82" cy="379.9" r="3.8" fill="#4e5458"/><circle cx="262.01" cy="379.9" r="4.2" fill="#56707e"/><circle cx="269.6" cy="379.9" r="3.8" fill="#4e5458"/><rect x="75.5" y="302.5" width="198.5" height="90" fill="none" stroke="#707070" stroke-width="1.0"/><text x="174.75" y="297.1" text-anchor="middle" font-weight="bold" font-size="6.95" fill="#000">Death</text><text x="72" y="317.55" text-anchor="end" font-size="7.0" fill="#333333">Blue and green spaces</text><text x="72" y="339.15" text-anchor="end" font-size="7.0" fill="#333333">Health behaviors</text><text x="72" y="360.75" text-anchor="end" font-size="7.0" fill="#333333">Social deprivation</text><text x="72" y="382.35" text-anchor="end" font-size="7.0" fill="#333333">Air and noise pollution</text><text transform="translate(82.8,399.3) rotate(-45)" text-anchor="end" font-size="6.05" fill="#333333">ACVRL1</text><text transform="translate(90.39,399.3) rotate(-45)" text-anchor="end" font-size="6.05" fill="#333333">ADGRG2</text><text transform="translate(97.98,399.3) rotate(-45)" text-anchor="end" font-size="6.05" fill="#333333">ADM</text><text transform="translate(105.58,399.3) rotate(-45)" text-anchor="end" font-size="6.05" fill="#333333">AGRN</text><text transform="translate(113.17,399.3) rotate(-45)" text-anchor="end" font-size="6.05" fill="#333333">ALPP</text><text transform="translate(120.76,399.3) rotate(-45)" text-anchor="end" font-size="6.05" fill="#333333">CA6</text><text transform="translate(128.35,399.3) rotate(-45)" text-anchor="end" font-size="6.05" fill="#333333">CDCP1</text><text transform="translate(135.94,399.3) rotate(-45)" text-anchor="end" font-size="6.05" fill="#333333">CEACAM5</text><text transform="translate(143.54,399.3) rotate(-45)" text-anchor="end" font-size="6.05" fill="#333333">CXCL17</text><text transform="translate(151.13,399.3) rotate(-45)" text-anchor="end" font-size="6.05" fill="#333333">FGF21</text><text transform="translate(158.72,399.3) rotate(-45)" text-anchor="end" font-size="6.05" fill="#333333">GDF15</text><text transform="translate(166.31,399.3) rotate(-45)" text-anchor="end" font-size="6.05" fill="#333333">GFRA1</text><text transform="translate(173.9,399.3) rotate(-45)" text-anchor="end" font-size="6.05" fill="#333333">HPGDS</text><text transform="translate(181.5,399.3) rotate(-45)" text-anchor="end" font-size="6.05" fill="#333333">IGFBP4</text><text transform="translate(189.09,399.3) rotate(-45)" text-anchor="end" font-size="6.05" fill="#333333">IL6</text><text transform="translate(196.68,399.3) rotate(-45)" text-anchor="end" font-size="6.05" fill="#333333">ITGA11</text><text transform="translate(204.27,399.3) rotate(-45)" text-anchor="end" font-size="6.05" fill="#333333">ITGAV</text><text transform="translate(211.86,399.3) rotate(-45)" text-anchor="end" font-size="6.05" fill="#333333">MMP12</text><text transform="translate(219.46,399.3) rotate(-45)" text-anchor="end" font-size="6.05" fill="#333333">MMP7</text><text transform="translate(227.05,399.3) rotate(-45)" text-anchor="end" font-size="6.05" fill="#333333">PIGR</text><text transform="translate(234.64,399.3) rotate(-45)" text-anchor="end" font-size="6.05" fill="#333333">PTGDS</text><text transform="translate(242.23,399.3) rotate(-45)" text-anchor="end" font-size="6.05" fill="#333333">SDC1</text><text transform="translate(249.82,399.3) rotate(-45)" text-anchor="end" font-size="6.05" fill="#333333">SPON2</text><text transform="translate(257.42,399.3) rotate(-45)" text-anchor="end" font-size="6.05" fill="#333333">TFF1</text><text transform="translate(265.01,399.3) rotate(-45)" text-anchor="end" font-size="6.05" fill="#333333">TFF2</text><text transform="translate(272.6,399.3) rotate(-45)" text-anchor="end" font-size="6.05" fill="#333333">TNFRSF12A</text><text transform="translate(284,313.6) scale(1,1.07)" font-size="6.2" fill="#000">Mediated proportion</text><circle cx="289.2" cy="320.4" r="1.2" fill="#000"/><text x="298" y="322.45" font-size="6.0" fill="#1a1a1a">10</text><circle cx="289.2" cy="326.8" r="3.1" fill="#000"/><text x="298" y="328.85" font-size="6.0" fill="#1a1a1a">20</text><circle cx="289.2" cy="335.8" r="4.4" fill="#000"/><text x="298" y="337.85" font-size="6.0" fill="#1a1a1a">30</text><text x="284.2" y="362" font-size="6.1" fill="#000">&#8722;</text><text x="288.2" y="361.2" font-size="6.3" fill="#000">Log</text><text x="299.4" y="361.8" font-size="3.9" fill="#000">10</text><text x="303.4" y="360.9" font-size="6.9" font-style="italic" fill="#000">P</text><text x="308.2" y="362.5" font-size="4.9" font-style="italic" fill="#000">.adj</text><rect x="284.2" y="367.5" width="9.6" height="19.5" fill="url(#g4)"/><line x1="284.2" y1="374.4" x2="285.8" y2="374.4" stroke="#fff" stroke-opacity="0.5" stroke-width="0.45"/><line x1="292.2" y1="374.4" x2="293.8" y2="374.4" stroke="#fff" stroke-opacity="0.5" stroke-width="0.45"/><text x="298" y="376.45" font-size="6.0" fill="#1a1a1a">10</text><line x1="284.2" y1="382.7" x2="285.8" y2="382.7" stroke="#fff" stroke-opacity="0.5" stroke-width="0.45"/><line x1="292.2" y1="382.7" x2="293.8" y2="382.7" stroke="#fff" stroke-opacity="0.5" stroke-width="0.45"/><text x="298" y="384.75" font-size="6.0" fill="#1a1a1a">5</text></g></svg></body></html>
